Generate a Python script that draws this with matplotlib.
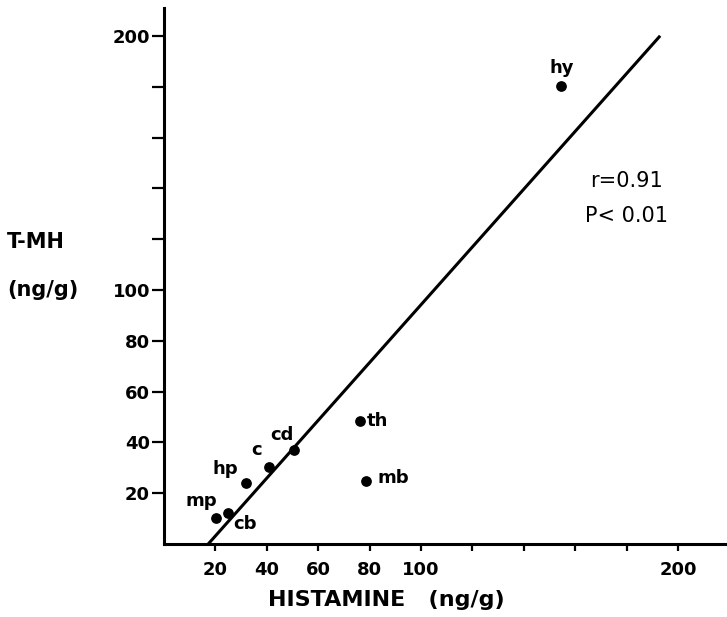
import numpy as np
import matplotlib
matplotlib.use("Agg")
import matplotlib.pyplot as plt

plt.rcParams['font.family'] = ['DejaVu Sans']

# brain regions: histamine vs tele-methylhistamine (ng/g)
regions = ['hy', 'th', 'mb', 'cd', 'c', 'hp', 'mp', 'cb']
histamine = [154.3, 76.4, 78.4, 50.4, 40.7, 31.7, 20.3, 24.8]
tmh = [180.4, 48.6, 24.8, 37.0, 30.2, 24.2, 10.4, 12.1]

# regression line as drawn
fit_slope = 1.138
fit_x0 = 17.2          # x-intercept
fit_xmax = 193.0

xticks = [20, 40, 60, 80, 100, 120, 140, 160, 180, 200]
xticklabels = ['20', '40', '60', '80', '100', '', '', '', '', '200']
yticks = [20, 40, 60, 80, 100, 120, 140, 160, 180, 200]
yticklabels = ['20', '40', '60', '80', '100', '', '', '', '', '200']

# label offsets in pixels (dx, dy, ha)
offsets = {
    'hy': (1, 18, 'center'),
    'th': (6, 0, 'left'),
    'mb': (12, 3, 'left'),
    'cd': (-12, 15, 'center'),
    'c': (-12, 17, 'center'),
    'hp': (-20, 14, 'center'),
    'mp': (-15, 17, 'center'),
    'cb': (17, -11, 'center'),
}

fig = plt.figure(figsize=(7.27, 6.17), dpi=100)
ax = fig.add_axes([0.2256, 0.1183, 0.7744, 0.8687])

fx = np.array([fit_x0, fit_xmax])
ax.plot(fx, fit_slope * (fx - fit_x0), color='black', linewidth=2.2, solid_capstyle='butt')

ax.scatter(histamine, tmh, s=45, color='black', zorder=3)
for name, x, y in zip(regions, histamine, tmh):
    dx, dy, ha = offsets[name]
    ax.annotate(name, (x, y), xytext=(dx, dy), textcoords='offset pixels',
                ha=ha, va='center', fontsize=13, fontweight='bold')

ax.text(180, 143, 'r=0.91', ha='center', va='center', fontsize=15)
ax.text(180, 129, 'P< 0.01', ha='center', va='center', fontsize=15)

ax.set_xlim(0, 219)
ax.set_ylim(0, 211)
ax.spines['top'].set_visible(False)
ax.spines['right'].set_visible(False)
ax.spines['left'].set_linewidth(2.2)
ax.spines['bottom'].set_linewidth(2.2)

ax.set_xticks(xticks)
ax.set_xticklabels(xticklabels, fontsize=13, fontweight='bold')
ax.set_yticks(yticks)
ax.set_yticklabels(yticklabels, fontsize=13, fontweight='bold')
ax.tick_params(axis='x', direction='out', length=5, width=1.6, pad=7)
ax.tick_params(axis='y', direction='out', length=9, width=1.6, pad=1)

ax.set_xlabel('HISTAMINE   (ng/g)', fontsize=16, fontweight='bold', va='center')
ax.xaxis.set_label_coords(0.394, -0.1045)
fig.text(0.01, 1 - 242 / 617, 'T-MH', ha='left', va='center', fontsize=15, fontweight='bold')
fig.text(0.01, 1 - 290 / 617, '(ng/g)', ha='left', va='center', fontsize=15, fontweight='bold')

fig.savefig('out.png', dpi=100)
